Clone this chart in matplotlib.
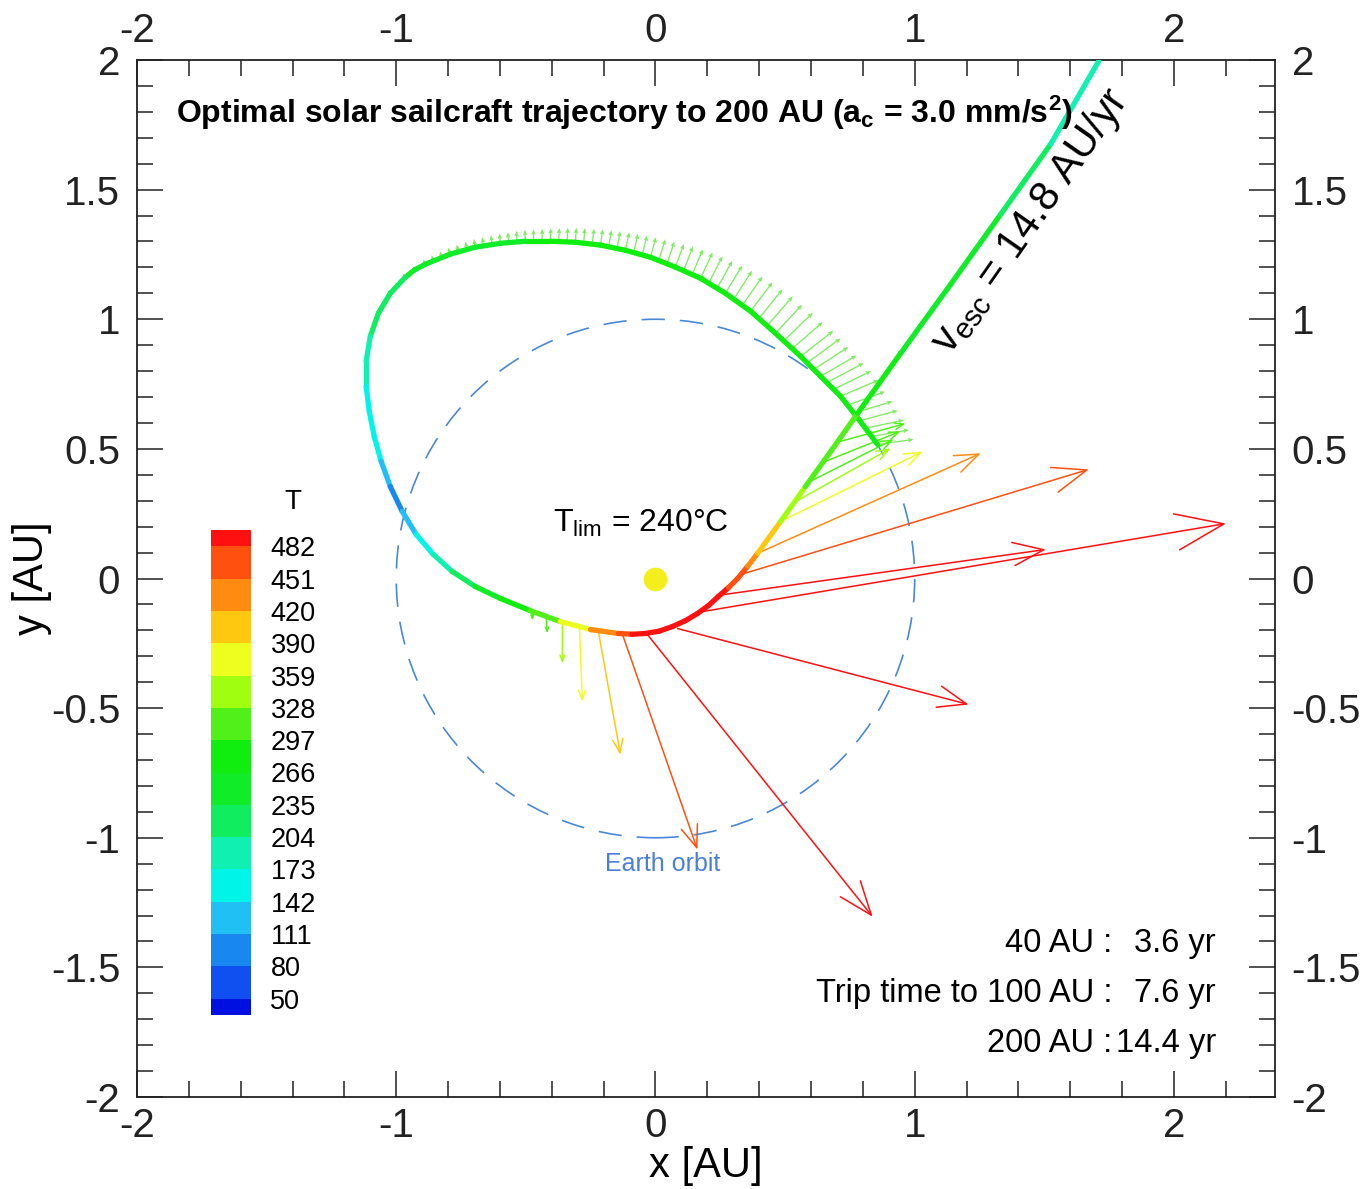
import numpy as np
import matplotlib
matplotlib.use('Agg')
import matplotlib.pyplot as plt
from matplotlib.collections import LineCollection
from matplotlib.colors import ListedColormap, BoundaryNorm
from matplotlib.patches import FancyArrowPatch, Circle, ArrowStyle
from matplotlib.ticker import MultipleLocator, FuncFormatter
from matplotlib.cm import ScalarMappable

plt.rcParams['font.family'] = ['Liberation Sans', 'DejaVu Sans']
plt.rcParams['mathtext.fontset'] = 'custom'
plt.rcParams['mathtext.rm'] = 'Liberation Sans'
plt.rcParams['mathtext.it'] = 'Liberation Sans:italic'
plt.rcParams['mathtext.bf'] = 'Liberation Sans:bold'
plt.rcParams['axes.unicode_minus'] = False

# ---------------- data ----------------
# trajectory (AU) and sail temperature (deg C)
traj_x = [0.857, 0.784, 0.714, 0.637, 0.560, 0.463, 0.367, 0.270, 0.174, 0.077,
          -0.019, -0.116, -0.212, -0.309, -0.405, -0.502, -0.598, -0.695, -0.792, -0.888,
          -0.930, -0.965, -1.023, -1.069, -1.100, -1.116, -1.116, -1.104, -1.085, -1.058,
          -1.023, -0.977, -0.923, -0.857, -0.784, -0.695, -0.598, -0.483, -0.367, -0.251,
          -0.143, -0.090, -0.039, 0.015, 0.066, 0.115, 0.162, 0.205, 0.243, 0.282,
          0.317, 0.356, 0.394, 0.483, 0.579, 0.676, 0.780, 0.946, 1.139, 1.332,
          1.525, 1.710]
traj_y = [0.517, 0.614, 0.703, 0.780, 0.857, 0.946, 1.031, 1.100, 1.158, 1.201,
          1.239, 1.266, 1.286, 1.297, 1.301, 1.301, 1.293, 1.278, 1.251, 1.212,
          1.190, 1.162, 1.100, 1.023, 0.934, 0.838, 0.741, 0.645, 0.548, 0.452,
          0.355, 0.259, 0.170, 0.093, 0.027, -0.031, -0.077, -0.124, -0.166, -0.197,
          -0.212, -0.215, -0.212, -0.203, -0.185, -0.163, -0.135, -0.104, -0.069, -0.035,
          0.000, 0.047, 0.097, 0.220, 0.355, 0.490, 0.637, 0.869, 1.135, 1.405,
          1.676, 1.996]
traj_T = [285, 285, 285, 285, 285, 285, 285, 282, 280, 280,
          278, 275, 272, 270, 268, 265, 262, 258, 252, 245,
          240, 235, 225, 215, 205, 195, 180, 165, 150, 135,
          115, 100, 130, 170, 200, 235, 262, 292, 340, 400,
          470, 485, 490, 490, 490, 490, 490, 490, 490, 485,
          470, 450, 430, 375, 340, 310, 290, 270, 250, 225,
          200, 180]

# sail-force hatching along the outbound arc: base (AU), direction (deg), length (AU)
hatch_x = [0.857, 0.835, 0.812, 0.790, 0.766, 0.740, 0.714, 0.688, 0.662, 0.637,
           0.610, 0.585, 0.560, 0.528, 0.495, 0.463, 0.431, 0.399, 0.367, 0.335,
           0.302, 0.270, 0.238, 0.206, 0.174, 0.142, 0.109, 0.077, 0.045, 0.013,
           -0.019, -0.051, -0.084, -0.116, -0.148, -0.180, -0.212, -0.244, -0.277, -0.309,
           -0.341, -0.373, -0.405, -0.437, -0.470, -0.502, -0.534, -0.566, -0.598, -0.630,
           -0.663, -0.695, -0.727, -0.760, -0.792, -0.824, -0.856, -0.888, -0.927, -0.965,
           -0.995, -1.023, -1.047, -1.069]
hatch_y = [0.517, 0.548, 0.580, 0.609, 0.638, 0.668, 0.703, 0.730, 0.756, 0.780,
           0.806, 0.832, 0.857, 0.887, 0.917, 0.946, 0.975, 1.003, 1.031, 1.054,
           1.078, 1.100, 1.120, 1.140, 1.158, 1.173, 1.188, 1.201, 1.214, 1.227,
           1.239, 1.249, 1.258, 1.266, 1.273, 1.280, 1.286, 1.290, 1.294, 1.297,
           1.299, 1.300, 1.301, 1.301, 1.301, 1.301, 1.299, 1.296, 1.293, 1.288,
           1.283, 1.278, 1.270, 1.261, 1.251, 1.239, 1.226, 1.212, 1.188, 1.162,
           1.131, 1.100, 1.063, 1.023]
hatch_ang = [8, 10, 12, 15, 17, 20, 23, 26, 28, 30,
             33, 36, 38, 41, 44, 47, 49, 51, 53, 55,
             57, 59, 61, 63, 65, 67, 69, 70, 72, 73,
             75, 76, 77, 78, 80, 81, 82, 83, 85, 86,
             87, 88, 89, 90, 91, 92, 93, 95, 96, 97,
             99, 100, 102, 104, 106, 108, 111, 114, 118, 122,
             127, 132, 138, 145]
hatch_len = [0.140, 0.145, 0.150, 0.150, 0.155, 0.155, 0.160, 0.160, 0.160, 0.160,
             0.160, 0.160, 0.160, 0.155, 0.155, 0.150, 0.150, 0.145, 0.140, 0.135,
             0.130, 0.125, 0.120, 0.115, 0.110, 0.105, 0.100, 0.095, 0.090, 0.085,
             0.080, 0.077, 0.074, 0.071, 0.068, 0.065, 0.062, 0.060, 0.058, 0.056,
             0.054, 0.052, 0.050, 0.048, 0.046, 0.044, 0.042, 0.040, 0.038, 0.036,
             0.034, 0.032, 0.030, 0.028, 0.026, 0.024, 0.022, 0.020, 0.018, 0.016,
             0.014, 0.012, 0.010, 0.008]

# sail-force vectors near perihelion: base and tip (AU), temperature
arrow_x0 = [-0.475, -0.421, -0.359, -0.293, -0.220, -0.127, -0.031, 0.085, 0.185, 0.263,
            0.328, 0.394, 0.483, 0.541, 0.598, 0.656, 0.714]
arrow_y0 = [-0.135, -0.154, -0.178, -0.193, -0.205, -0.216, -0.216, -0.193, -0.127, -0.062,
            0.015, 0.097, 0.220, 0.297, 0.375, 0.452, 0.529]
arrow_x1 = [-0.475, -0.417, -0.359, -0.282, -0.135, 0.162, 0.838, 1.208, 2.201, 1.506,
            1.672, 1.255, 1.031, 0.907, 0.919, 0.946, 0.965]
arrow_y1 = [-0.162, -0.212, -0.328, -0.475, -0.680, -1.046, -1.305, -0.486, 0.212, 0.112,
            0.421, 0.483, 0.490, 0.502, 0.537, 0.568, 0.598]
arrow_T = [300, 320, 345, 375, 405, 460, 490, 490, 490, 490,
           465, 435, 375, 345, 320, 310, 300]

T_levels = [50, 80, 111, 142, 173, 204, 235, 266, 297, 328, 359, 390, 420, 451, 482]
T_colors = ['#0010E0', '#1050F0', '#1888F0', '#20C0F5', '#00F5E8', '#10F0B0',
            '#10EE60', '#10EC28', '#10EE10', '#50F018', '#A0FF10', '#EEFF20',
            '#FFC810', '#FF8C10', '#FF5010', '#FF1010']

trip_labels = ['40 AU :', 'Trip time to 100 AU :', '200 AU :']
trip_times = ['3.6 yr', '7.6 yr', '14.4 yr']

# ---------------- figure ----------------
W, H = 1365, 1189
fig = plt.figure(figsize=(W / 100, H / 100), dpi=100)
ax = fig.add_axes([137 / W, 1 - 1097 / H, 1138 / W, 1037 / H])
ax.set_xlim(-2, 2.39)
ax.set_ylim(-2, 2)

cmap = ListedColormap(T_colors[1:-1])
cmap.set_under(T_colors[0])
cmap.set_over(T_colors[-1])
norm = BoundaryNorm(T_levels, cmap.N)

# Earth orbit
ax.add_patch(Circle((0, 0), 1.0, fill=False, ec='#4A88D8', lw=1.2,
                    ls=(0, (14, 9)), zorder=1.5))

# hatching
ha_ = np.radians(hatch_ang)
hl = np.asarray(hatch_len)
ax.quiver(hatch_x, hatch_y, hl * np.cos(ha_), hl * np.sin(ha_), angles='xy',
          scale_units='xy', scale=1, color='#6CE84A', alpha=0.85,
          width=0.0012, headwidth=3.5, headlength=4, headaxislength=3.5, zorder=2)

# long force arrows
for x0, y0, x1, y1, t in zip(arrow_x0, arrow_y0, arrow_x1, arrow_y1, arrow_T):
    Lpx = np.hypot(x1 - x0, y1 - y0) * 259
    hlen = (0.085 * Lpx + 3) * 0.72
    arr = FancyArrowPatch((x0, y0), (x1, y1),
                          arrowstyle=ArrowStyle('->', head_length=hlen, head_width=0.38 * hlen),
                          mutation_scale=1, lw=1.1, color=cmap(norm(t)),
                          shrinkA=0, shrinkB=0, zorder=2.5)
    ax.add_patch(arr)

# trajectory
pts = np.column_stack([traj_x, traj_y])
segs = np.stack([pts[:-1], pts[1:]], axis=1)
segT = 0.5 * (np.asarray(traj_T[:-1]) + np.asarray(traj_T[1:]))
lc = LineCollection(segs, colors=cmap(norm(segT)), linewidths=3.8, capstyle='round',
                    joinstyle='round', zorder=3)
ax.add_collection(lc)

# Sun
ax.plot([0], [0], 'o', ms=17, color='#F4EE1C', mec='none', zorder=4)

# texts
ax.text(-1.849, 1.795, r'Optimal solar sailcraft trajectory to 200 AU (a$_\mathbf{c}$ = 3.0 mm/s$^\mathbf{2}$)',
        fontsize=23, fontweight='bold', ha='left', va='center')
ax.text(-0.058, 0.212, r'T$_{\rm lim}$ = 240°C', fontsize=23, ha='center', va='center')
ax.text(1.448, 1.378, r'v$_{\rm esc}$ = 14.8 AU/yr', fontsize=30, rotation=55,
        ha='center', va='center', rotation_mode='anchor')
ax.text(0.027, -1.10, 'Earth orbit', color='#4A80D8', fontsize=18, ha='center', va='center')
for i, (l, r) in enumerate(zip(trip_labels, trip_times)):
    yy = -1.409 - 0.193 * i
    ax.text(1.764, yy, l, fontsize=23.5, ha='right', va='center')
    ax.text(2.162, yy, r, fontsize=23.5, ha='right', va='center')

# axes styling
ax.xaxis.set_major_locator(MultipleLocator(1))
ax.xaxis.set_minor_locator(MultipleLocator(0.2))
ax.yaxis.set_major_locator(MultipleLocator(0.5))
ax.yaxis.set_minor_locator(MultipleLocator(0.1))
fmt = FuncFormatter(lambda v, p: f'{v:g}')
ax.xaxis.set_major_formatter(fmt)
ax.yaxis.set_major_formatter(fmt)
ax.tick_params(which='both', direction='in', top=True, right=True,
               labeltop=True, labelright=True, labelsize=29, width=1.1, colors='#222222')
ax.tick_params(which='major', length=19)
ax.tick_params(which='minor', length=11.5)
ax.xaxis.set_tick_params(which='major', pad=7)
ax.yaxis.set_tick_params(which='major', pad=12)
for s in ax.spines.values():
    s.set_linewidth(1.3)
    s.set_color('#222222')

fig.text(706 / W, 1 - 1166 / H, 'x [AU]', ha='center', va='center', fontsize=30)
fig.text(32 / W, 1 - 578 / H, 'y [AU]', ha='center', va='center', fontsize=30, rotation=90)

# colour bar
cax = fig.add_axes([211 / W, 1 - 1015 / H, 40 / W, 485 / H])
cb = fig.colorbar(ScalarMappable(norm=norm, cmap=cmap), cax=cax, extend='both',
                  extendrect=True, extendfrac=0.036, ticks=T_levels)
cb.outline.set_visible(False)
cax.tick_params(length=0, pad=14, labelsize=19.5)
fig.text(293 / W, 1 - 502 / H, 'T', ha='center', va='center', fontsize=20)

fig.savefig('out.png', dpi=100)
